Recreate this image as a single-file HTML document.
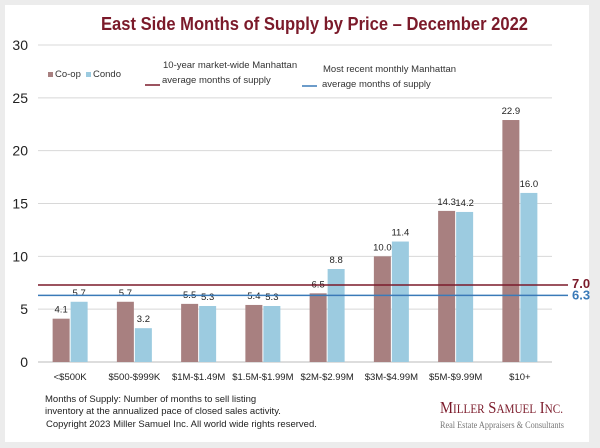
<!DOCTYPE html>
<html><head><meta charset="utf-8"><style>
body{margin:0;background:#ececec;}
svg{display:block;font-family:"Liberation Sans",sans-serif;}
</style></head><body>
<svg width="600" height="448" id="c">
<rect x="5" y="5" width="584" height="437" fill="#fff"/>
<text x="101" y="30" textLength="427" lengthAdjust="spacingAndGlyphs" font-size="18" font-weight="bold" fill="#7b1a2a">East Side Months of Supply by Price – December 2022</text>
<g id="grid"></g><g id="bars"></g><g id="lines"></g>
<g font-size="9.5" fill="#333">
<rect x="48" y="72" width="5" height="5" fill="#a88080"/><text x="55" y="77">Co-op</text>
<rect x="86" y="72" width="5" height="5" fill="#9ccbe0"/><text x="93" y="77">Condo</text>
<line x1="145" y1="85" x2="160" y2="85" stroke="#7b1a2a" stroke-width="1.5"/>
<text x="163" y="68">10-year  market-wide Manhattan</text><text x="162" y="83">average months of supply</text>
<line x1="302" y1="86" x2="317" y2="86" stroke="#3a7ab8" stroke-width="1.5"/>
<text x="323" y="72">Most recent monthly Manhattan</text><text x="322" y="87">average months of supply</text>
</g>
<g font-size="9.5" fill="#222">
<text x="45" y="402">Months of Supply: Number of months to sell listing</text>
<text x="45" y="414">inventory at the annualized pace of closed sales activity.</text>
<text x="46" y="427">Copyright 2023 Miller Samuel Inc.  All world wide rights reserved.</text>
</g>
<text x="440" y="413" textLength="123" lengthAdjust="spacingAndGlyphs" font-family="Liberation Serif,serif" font-size="17" fill="#7b1a2a">M<tspan font-size="13">ILLER</tspan> S<tspan font-size="13">AMUEL</tspan> I<tspan font-size="13">NC.</tspan></text>
<text x="440" y="428" textLength="124" lengthAdjust="spacingAndGlyphs" font-family="Liberation Serif,serif" font-size="9" fill="#777">Real Estate Appraisers &amp; Consultants</text>
</svg>
<script>
const categories=["<$500K","$500-$999K","$1M-$1.49M","$1.5M-$1.99M","$2M-$2.99M","$3M-$4.99M","$5M-$9.99M","$10+"];
const coop=[4.1,5.7,5.5,5.4,6.5,10.0,14.3,22.9];
const condo=[5.7,3.2,5.3,5.3,8.8,11.4,14.2,16.0];
const yTicks=[0,5,10,15,20,25,30];
const refLines=[7.0,6.3];
const NS="http://www.w3.org/2000/svg";
const x0=38,x1=552,yb=362,yt=45,ymax=30;
const y=v=>yb-(v/ymax)*(yb-yt);
const band=(x1-x0)/categories.length;
function mk(t,a,p,txt){const e=document.createElementNS(NS,t);for(const k in a)e.setAttribute(k,a[k]);if(txt!==undefined)e.textContent=txt;p.appendChild(e);return e;}
const G=document.getElementById('grid'),B=document.getElementById('bars'),L=document.getElementById('lines');
yTicks.forEach(t=>{
const l=mk('line',{x1:x0,x2:x1,y1:y(t),y2:y(t),stroke:'#d8d8d8'},G);


const tx=mk('text',{x:28,y:y(t)+5,'text-anchor':'end','font-size':14,fill:'#222'},G,t);


});
categories.forEach((c,i)=>{
const cx=x0+band*(i+0.5);
const tx=mk('text',{x:cx,y:yb+18,'text-anchor':'middle','font-size':9.5,fill:'#222'},G,c);


[[coop[i],'#a88080',cx-17.5,'bar-coop'],[condo[i],'#9ccbe0',cx+0.5,'bar-condo']].forEach(([v,col,bx,n])=>{
const r=mk('rect',{x:bx,y:y(v),width:17,height:yb-y(v),fill:col},B);


const lb=mk('text',{x:bx+8.5,y:y(v)-6,'text-anchor':'middle','font-size':9.5,fill:'#222'},B,v.toFixed(1));


});
});
const ax=mk('line',{x1:x0,x2:x1,y1:yb,y2:yb,stroke:'#bbb'},G);


const lc=['#7b1a2a','#3a7ab8'],ln=['ten-year-avg-line','recent-avg-line'];
refLines.forEach((v,i)=>{
const yy=y(v)-(i==0?3:0);
const l=mk('line',{x1:x0,x2:568,y1:yy,y2:yy,stroke:lc[i],'stroke-width':1.5},L);


const t=mk('text',{x:572,y:yy+(i==0?3:4),'font-size':13,'font-weight':'bold',fill:lc[i]},L,v.toFixed(1));


});
</script>
</body></html>
